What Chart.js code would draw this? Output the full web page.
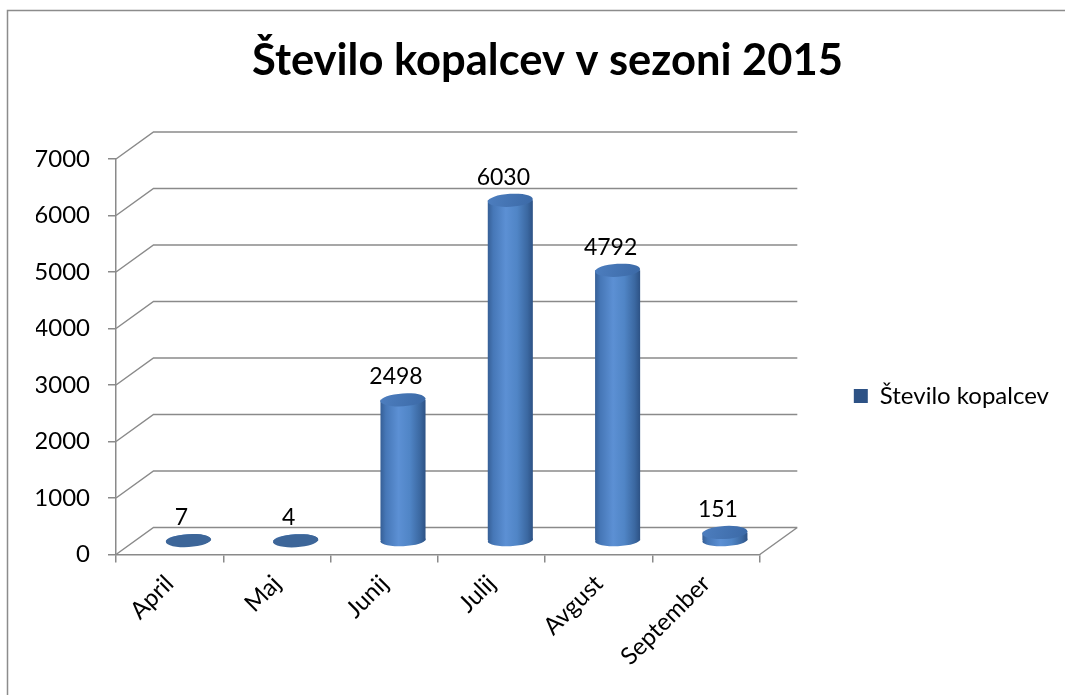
<!DOCTYPE html>
<html>
<head>
<meta charset="utf-8">
<script src="https://cdn.jsdelivr.net/npm/chart.js@4/dist/chart.umd.min.js"></script>
<style>
  body { margin: 0; background: #fff; }
</style>
</head>
<body>
<canvas id="kopalciChart" width="1065" height="695"></canvas>
<script>
const months = ['April', 'Maj', 'Junij', 'Julij', 'Avgust', 'September'];
const swimmers = [7, 4, 2498, 6030, 4792, 151];
const yTicks = [0, 1000, 2000, 3000, 4000, 5000, 6000, 7000];

const seriesName = 'Število kopalcev';
const gridColor = '#8a8a8a';
const depthX = 37.5;   // 3D depth of the floor / back wall
const depthY = -27;
const barShare = 0.42;

// horizontal shading so the bars read as cylinders
function cylinderFill(c) {
    const chart = c.chart;
    const xs = chart.scales.x;
    if (!xs || c.dataIndex === undefined) return '#4f81bd';
    const cx = xs.getPixelForValue(c.dataIndex);
    const half = xs.width / months.length * barShare / 2;
    if (!isFinite(cx) || !isFinite(half) || half <= 0) return '#4f81bd';
    const g = chart.ctx.createLinearGradient(cx - half, 0, cx + half, 0);
    g.addColorStop(0, '#365f96');
    g.addColorStop(0.12, '#4677b7');
    g.addColorStop(0.4, '#5c90d4');
    g.addColorStop(0.65, '#5085c6');
    g.addColorStop(0.88, '#3b68a1');
    g.addColorStop(1, '#2d5285');
    return g;
}

const frame3d = {
    id: 'frame3d',
    beforeDraw(chart) {
        const c = chart.ctx;
        c.save();
        c.strokeStyle = '#8c8c8c';
        c.lineWidth = 1.5;
        c.strokeRect(7.5, 10.5, 3000, 3000);
        c.restore();
    },
    afterLayout(chart) {
        const lg = chart.legend;
        const h = lg.bottom - lg.top;
        lg.top = 396 - h / 2;
        lg.bottom = lg.top + h;
    },
    beforeDatasetsDraw(chart) {
        const c = chart.ctx;
        const a = chart.chartArea;
        const y = chart.scales.y;
        c.save();
        c.strokeStyle = gridColor;
        c.lineWidth = 1.5;
        c.beginPath();
        yTicks.forEach(v => {
            const py = y.getPixelForValue(v);
            c.moveTo(a.left, py);
            c.lineTo(a.left + depthX, py + depthY);
            c.lineTo(a.right + depthX, py + depthY);
        });
        c.moveTo(a.right, a.bottom);
        c.lineTo(a.right + depthX, a.bottom + depthY);
        c.stroke();
        c.restore();

        // bars sit half way into the depth
        c.save();
        c.translate(depthX / 2, depthY / 2);
        chart.getDatasetMeta(0).data.forEach(bar => {
            c.beginPath();
            c.ellipse(bar.x, bar.base, bar.width / 2, 6, -0.05, 0, Math.PI * 2);
            c.fillStyle = bar.options.backgroundColor;
            c.fill();
        });
    },
    afterDatasetsDraw(chart) {
        const c = chart.ctx;
        chart.getDatasetMeta(0).data.forEach((bar, i) => {
            const g = c.createLinearGradient(bar.x - bar.width / 2, bar.y - 6, bar.x + bar.width / 2, bar.y + 6);
            g.addColorStop(0, '#4d7ebf');
            g.addColorStop(1, '#3b69a6');
            c.beginPath();
            c.ellipse(bar.x, bar.y, bar.width / 2, 6.5, -0.06, 0, Math.PI * 2);
            c.fillStyle = swimmers[i] < 50 ? '#3d6699' : g;
            c.fill();

            c.fillStyle = '#000';
            c.font = '23px Lato';
            c.textAlign = 'center';
            c.textBaseline = 'middle';
            c.fillText(String(swimmers[i]), bar.x - 7, bar.y - 23);
        });
        c.restore();
    }
};

const ctx = document.getElementById('kopalciChart').getContext('2d');

new Chart(ctx, {
    type: 'bar',
    data: {
        labels: months,
        datasets: [{
            label: seriesName,
            data: swimmers,
            backgroundColor: cylinderFill,
            borderWidth: 0,
            categoryPercentage: 1,
            barPercentage: barShare,
        }]
    },
    options: {
        responsive: false,
        animation: false,
        layout: {
            padding: { left: 36, right: 6, top: 0, bottom: 17 }
        },
        scales: {
            x: {
                grid: { drawOnChartArea: false, color: gridColor, lineWidth: 1.5, tickLength: 8 },
                border: { color: gridColor, width: 1.5 },
                ticks: {
                    color: '#000',
                    font: { family: 'Lato', size: 24 },
                    padding: 7,
                    minRotation: 45,
                    maxRotation: 45,
                    autoSkip: false,
                },
            },
            y: {
                min: 0,
                max: 7000,
                afterFit(scale) { scale.width = 80; },
                grid: { drawOnChartArea: false, color: gridColor, lineWidth: 1.5, tickLength: 8 },
                border: { color: gridColor, width: 1.5 },
                ticks: {
                    stepSize: 1000,
                    padding: 18,
                    color: '#000',
                    font: { family: 'Lato', size: 24 },
                    callback: v => String(v),
                },
            }
        },
        plugins: {
            title: {
                display: true,
                text: 'Število kopalcev v sezoni 2015',
                color: '#000',
                font: { family: 'Lato', size: 43.5, weight: 'bold' },
                padding: { top: 35, bottom: 71.8 },
            },
            legend: {
                position: 'right',
                maxWidth: 400,
                labels: {
                    color: '#000',
                    font: { family: 'Lato', size: 24 },
                    boxWidth: 14,
                    boxHeight: 14,
                    padding: 94,
                },
            },
            tooltip: { enabled: false },
        },
    },
    plugins: [frame3d]
});
</script>
</body>
</html>
